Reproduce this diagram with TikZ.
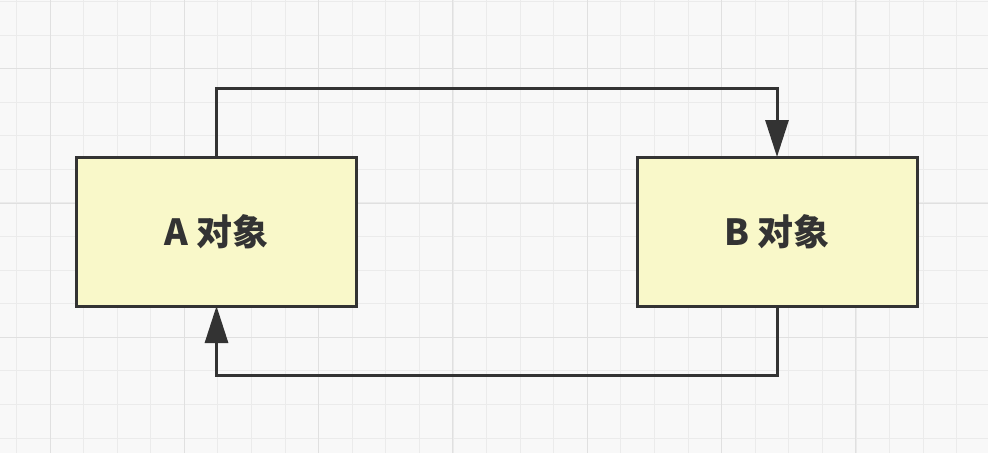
\documentclass[tikz,border=0pt]{standalone}
\usepackage{fontspec}
\newfontfamily\cjk{Noto Sans CJK SC}
\usetikzlibrary{arrows.meta}
\definecolor{bgcol}{HTML}{F8F8F8}
\definecolor{gridminor}{HTML}{EBEBEB}
\definecolor{gridmajor}{HTML}{E0E0E0}
\definecolor{boxfill}{HTML}{F9F8C9}
\definecolor{ink}{HTML}{333333}
\tikzset{
  objbox/.style={draw=ink, fill=boxfill, line width=3pt, rectangle,
    minimum width=280pt, minimum height=149pt, inner sep=0pt, outer sep=0pt,
    font=\cjk\bfseries\fontsize{36pt}{40pt}\selectfont, text=ink},
  link/.style={draw=ink, line width=3pt, line join=miter,
    -{Triangle[length=37pt,width=23pt]}},
}
\begin{document}
\begin{tikzpicture}[x=1pt,y=-1pt]
  % canvas
  \fill[bgcol] (0,0) rectangle (988,453);
  \useasboundingbox (0,0) rectangle (988,453);
  % background grid
  \foreach \i in {0,...,29} {
    \draw[gridminor, line width=1pt] ({16.5+33.58*\i},0) -- ({16.5+33.58*\i},453);
  }
  \foreach \j in {0,...,13} {
    \draw[gridminor, line width=1pt] (0,{1.5+33.58*\j}) -- (988,{1.5+33.58*\j});
  }
  \foreach \i in {0,...,7} {
    \draw[gridmajor, line width=1pt] ({50+134.32*\i},0) -- ({50+134.32*\i},453);
  }
  \foreach \j in {0,...,3} {
    \draw[gridmajor, line width=1pt] (0,{68.7+134.32*\j}) -- (988,{68.7+134.32*\j});
  }
  % objects
  \node[objbox] (A) at (216.5,231.5) {A 对象};
  \node[objbox] (B) at (777,231.5) {B 对象};
  % connectors
  \draw[link] (A.north) -- ++(0,-69) -| (B.north);
  \draw[link] (B.south) -- ++(0,69) -| (A.south);
\end{tikzpicture}
\end{document}
